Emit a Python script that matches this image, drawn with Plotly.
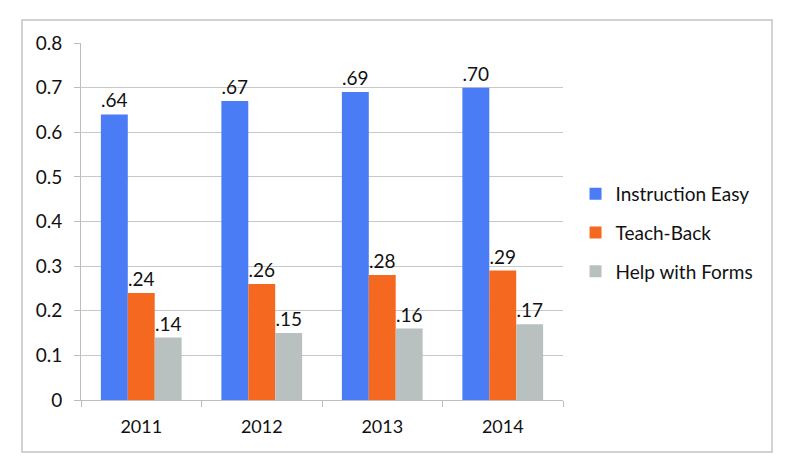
import plotly.graph_objects as go

years = ["2011", "2012", "2013", "2014"]
instruction_easy = [0.64, 0.67, 0.69, 0.70]
teach_back = [0.24, 0.26, 0.28, 0.29]
help_forms = [0.14, 0.15, 0.16, 0.17]
series_names = ["Instruction Easy", "Teach-Back", "Help with Forms"]
colors = ["#4A7CF6", "#F4691F", "#B8C1BF"]
ytick_vals = [0, 0.1, 0.2, 0.3, 0.4, 0.5, 0.6, 0.7, 0.8]
ytick_text = ["0", "0.1", "0.2", "0.3", "0.4", "0.5", "0.6", "0.7", "0.8"]

FONT = "Lato"

def lab(v):
    return f"{v:.2f}".lstrip("0")

fig = go.Figure()
for i, (name, vals) in enumerate(zip(series_names, [instruction_easy, teach_back, help_forms])):
    fig.add_trace(go.Bar(
        x=years, y=vals, name=name,
        marker=dict(color=colors[i], line=dict(width=0)),
        text=[lab(v) for v in vals], textposition="outside",
        textfont=dict(family=FONT, size=19, color="#111"),
        cliponaxis=False, legendgroup=name,
    ))

fig.update_layout(
    width=770, height=455,
    margin=dict(l=73, r=215, t=35, b=63),
    paper_bgcolor="white", plot_bgcolor="white",
    barmode="group", bargap=0.33, bargroupgap=0,
    font=dict(family=FONT, size=19, color="#111"),
    legend=dict(x=1.026, y=0.468, xanchor="left", yanchor="middle",
                font=dict(family=FONT, size=19, color="#111"),
                tracegroupgap=11, traceorder="grouped",
                itemwidth=30),
    showlegend=True,
)
fig.update_xaxes(
    showline=True, linecolor="#BDBDBD", linewidth=1,
    ticks="outside", tickson="boundaries", ticklen=6, tickcolor="#BDBDBD",
    tickfont=dict(family=FONT, size=18, color="#111"),
    ticklabelstandoff=10,
    showgrid=False,
)
fig.update_yaxes(
    range=[0, 0.8], tickvals=ytick_vals, ticktext=ytick_text,
    showline=True, linecolor="#BDBDBD", linewidth=1,
    ticks="outside", ticklen=6, tickcolor="#BDBDBD",
    ticklabelstandoff=8,
    showgrid=True, gridcolor="#C8C8C8", gridwidth=1,
    tickfont=dict(family=FONT, size=19, color="#111"),
    zeroline=False,
)
fig.add_shape(type="rect", xref="paper", yref="paper",
              x0=-0.1224, x1=1.4336, y0=-0.1457, y1=1.0644,
              line=dict(color="#C4C4C4", width=1.5), fillcolor="rgba(0,0,0,0)")

fig.write_html("out.html")
